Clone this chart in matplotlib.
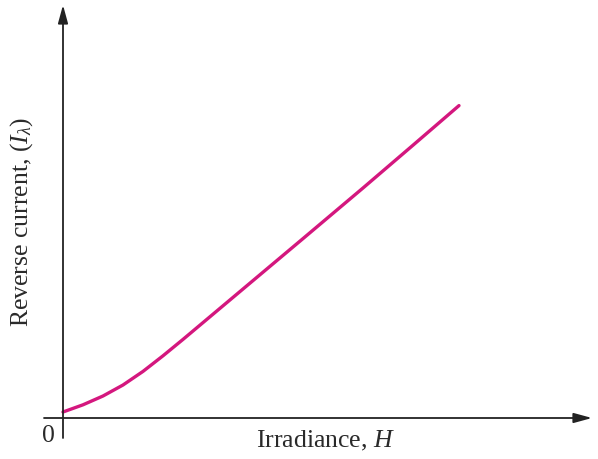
import matplotlib
import matplotlib.pyplot as plt

matplotlib.use('Agg')

# Curve (arbitrary units)
irradiance = [0.0, 0.5, 1.0, 1.5, 2.0, 2.5, 3.0, 3.5, 4.25, 5.0, 6.0, 7.5, 8.75, 9.9]
reverse_current = [0.15, 0.33, 0.55, 0.825, 1.165, 1.555, 1.965, 2.385, 3.015,
                   3.645, 4.485, 5.75, 6.82, 7.81]

x_label = "Irradiance, $H$"
y_label = r"Reverse current, $(I_\lambda)$"
origin_label = "0"

plt.rcParams['font.family'] = ['Liberation Serif', 'DejaVu Serif']
plt.rcParams['mathtext.fontset'] = 'custom'
plt.rcParams['mathtext.rm'] = 'Liberation Serif'
plt.rcParams['mathtext.it'] = 'Liberation Serif:italic'

W, H = 598, 459
fig = plt.figure(figsize=(W / 100, H / 100), dpi=100)

# origin sits at pixel (63, 418); axes run to the arrow tips
x0, y0, x1, y1 = 63, 418, 592, 5
ax = fig.add_axes([x0 / W, (H - y0) / H, (x1 - x0) / W, (y0 - y1) / H])
ax.set_xlim(0, (x1 - x0) / 40)
ax.set_ylim(0, (y0 - y1) / 40)
ax.axis('off')

ax.plot(irradiance, reverse_current, color='#d4177e', lw=2.4,
        solid_capstyle='round', solid_joinstyle='round', clip_on=False)

# axis lines with arrow heads
arrow = dict(arrowstyle='-|>,head_length=1.1,head_width=0.3', color='#222222',
             lw=1.3, shrinkA=0, shrinkB=0)
ax.annotate('', xy=(1, 0), xytext=(-19 / (x1 - x0), 0),
            xycoords='axes fraction', arrowprops=arrow)
ax.annotate('', xy=(0, 1), xytext=(0, -20 / (y0 - y1)),
            xycoords='axes fraction', arrowprops=arrow)

txt = dict(fontsize=18.5, color='#2a2a2a', ha='center', va='center')
fig.text(325 / W, 1 - 441 / H, x_label, **txt)
fig.text(22 / W, 1 - 222 / H, y_label, rotation=90, **txt)
fig.text(48 / W, 1 - 436 / H, origin_label, **txt)

fig.savefig('out.png', dpi=100)
plt.close(fig)
